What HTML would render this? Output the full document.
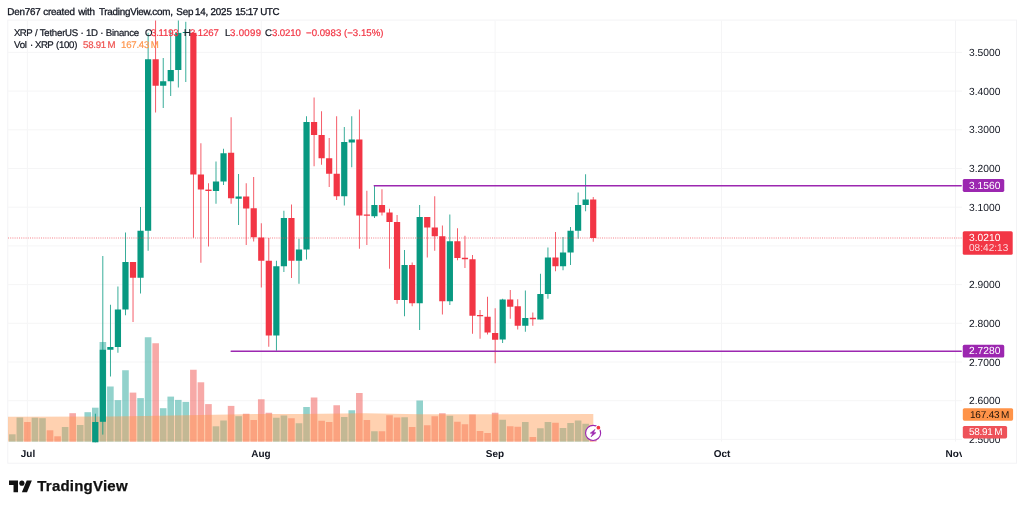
<!DOCTYPE html>
<html><head><meta charset="utf-8"><title>XRP / TetherUS</title>
<style>
html,body{margin:0;padding:0;background:#fff;}
body{will-change:transform;width:1024px;height:509px;position:relative;overflow:hidden;font-family:"Liberation Sans",sans-serif;color:#131722;}
.hdr{transform:skewX(0.3deg);transform-origin:0 100%;position:absolute;left:7.2px;top:6.37px;font-size:9.9px;line-height:11px;white-space:pre;letter-spacing:-0.2px;color:#131722;-webkit-text-stroke:0.3px #131722;}
svg.chart{position:absolute;left:0;top:0;}
.pl{transform:skewX(0.3deg);transform-origin:0 100%;position:absolute;left:968.8px;font-size:10.3px;line-height:12px;color:#131722;white-space:pre;letter-spacing:0.02px;}
.tt{position:absolute;line-height:12px;white-space:pre;transform:skewX(0.3deg);transform-origin:0 100%;}
.tl{position:absolute;top:447px;font-size:10px;line-height:12px;font-weight:bold;color:#131722;transform:translateX(-50%) skewX(0.3deg);white-space:pre;}
.leg{position:absolute;left:0;font-size:9.7px;line-height:9.6px;white-space:pre;color:#131722;letter-spacing:-0.25px;}
.leg span{position:absolute;top:0;-webkit-text-stroke:0.2px;transform:skewX(0.3deg);transform-origin:0 100%;}

.red{color:#F23645;}
.logo{position:absolute;left:9.2px;top:477.8px;}
.logot{position:absolute;left:37.3px;top:476.9px;font-size:15px;line-height:18px;font-weight:bold;color:#111;letter-spacing:0.22px;-webkit-text-stroke:0.25px #111;}
.clip{position:absolute;left:8px;top:442px;width:954px;height:21px;overflow:hidden;}
</style></head><body>
<div class="hdr" style="left:0"><span style="position:absolute;left:7.2px;top:0;">Den767</span><span style="position:absolute;left:43.15px;top:0;">created</span><span style="position:absolute;left:78.1px;top:0;">with</span><span style="position:absolute;left:98.9px;top:0;letter-spacing:-0.26px;">TradingView.com,</span><span style="position:absolute;left:176.3px;top:0;letter-spacing:-0.25px;">Sep</span><span style="position:absolute;left:194.9px;top:0;">14,</span><span style="position:absolute;left:210.4px;top:0;letter-spacing:-0.15px;">2025</span><span style="position:absolute;left:235.2px;top:0;letter-spacing:-0.4px;">15:17</span><span style="position:absolute;left:260.1px;top:0;letter-spacing:-0.45px;">UTC</span></div>
<svg class="chart" width="1024" height="509" viewBox="0 0 1024 509">
<defs><clipPath id="pane2"><rect x="8" y="20.5" width="1008" height="422.1"/></clipPath><clipPath id="pane"><rect x="8" y="20.5" width="1008" height="421.3"/></clipPath></defs>
<rect x="7.8" y="20.1" width="1008.7" height="443.1" fill="none" stroke="#F3F3F5" stroke-width="1"/>
<g clip-path="url(#pane)">
<line x1="8" x2="962" y1="52.40" y2="52.40" stroke="#F5F5F6" stroke-width="1"/>
<line x1="8" x2="962" y1="91.10" y2="91.10" stroke="#F5F5F6" stroke-width="1"/>
<line x1="8" x2="962" y1="129.80" y2="129.80" stroke="#F5F5F6" stroke-width="1"/>
<line x1="8" x2="962" y1="168.50" y2="168.50" stroke="#F5F5F6" stroke-width="1"/>
<line x1="8" x2="962" y1="207.20" y2="207.20" stroke="#F5F5F6" stroke-width="1"/>
<line x1="8" x2="962" y1="245.90" y2="245.90" stroke="#F5F5F6" stroke-width="1"/>
<line x1="8" x2="962" y1="284.60" y2="284.60" stroke="#F5F5F6" stroke-width="1"/>
<line x1="8" x2="962" y1="323.30" y2="323.30" stroke="#F5F5F6" stroke-width="1"/>
<line x1="8" x2="962" y1="362.00" y2="362.00" stroke="#F5F5F6" stroke-width="1"/>
<line x1="8" x2="962" y1="400.70" y2="400.70" stroke="#F5F5F6" stroke-width="1"/>
<line x1="8" x2="962" y1="439.40" y2="439.40" stroke="#F5F5F6" stroke-width="1"/>
<line x1="27.40" x2="27.40" y1="20.5" y2="441.8" stroke="#F5F5F6" stroke-width="1"/>
<line x1="261.26" x2="261.26" y1="20.5" y2="441.8" stroke="#F5F5F6" stroke-width="1"/>
<line x1="495.13" x2="495.13" y1="20.5" y2="441.8" stroke="#F5F5F6" stroke-width="1"/>
<line x1="721.45" x2="721.45" y1="20.5" y2="441.8" stroke="#F5F5F6" stroke-width="1"/>
<line x1="955.5" x2="955.5" y1="20" y2="441.8" stroke="#F3F3F5" stroke-width="1"/>
<rect x="1.47" y="430.00" width="6.6" height="11.80" fill="rgba(38,166,154,0.5)"/>
<rect x="9.01" y="434.30" width="6.6" height="7.50" fill="rgba(38,166,154,0.5)"/>
<rect x="16.56" y="417.50" width="6.6" height="24.30" fill="rgba(38,166,154,0.5)"/>
<rect x="24.10" y="422.00" width="6.6" height="19.80" fill="rgba(239,83,80,0.5)"/>
<rect x="31.64" y="417.70" width="6.6" height="24.10" fill="rgba(38,166,154,0.5)"/>
<rect x="39.19" y="418.20" width="6.6" height="23.60" fill="rgba(38,166,154,0.5)"/>
<rect x="46.73" y="430.30" width="6.6" height="11.50" fill="rgba(239,83,80,0.5)"/>
<rect x="54.28" y="436.30" width="6.6" height="5.50" fill="rgba(239,83,80,0.5)"/>
<rect x="61.82" y="427.00" width="6.6" height="14.80" fill="rgba(38,166,154,0.5)"/>
<rect x="69.36" y="413.20" width="6.6" height="28.60" fill="rgba(239,83,80,0.5)"/>
<rect x="76.91" y="425.00" width="6.6" height="16.80" fill="rgba(38,166,154,0.5)"/>
<rect x="84.45" y="412.20" width="6.6" height="29.60" fill="rgba(38,166,154,0.5)"/>
<rect x="92.00" y="407.70" width="6.6" height="34.10" fill="rgba(38,166,154,0.5)"/>
<rect x="99.54" y="342.00" width="6.6" height="99.80" fill="rgba(38,166,154,0.5)"/>
<rect x="107.08" y="386.50" width="6.6" height="55.30" fill="rgba(38,166,154,0.5)"/>
<rect x="114.63" y="400.10" width="6.6" height="41.70" fill="rgba(38,166,154,0.5)"/>
<rect x="122.17" y="370.25" width="6.6" height="71.55" fill="rgba(38,166,154,0.5)"/>
<rect x="129.72" y="392.60" width="6.6" height="49.20" fill="rgba(239,83,80,0.5)"/>
<rect x="137.26" y="398.10" width="6.6" height="43.70" fill="rgba(38,166,154,0.5)"/>
<rect x="144.80" y="337.25" width="6.6" height="104.55" fill="rgba(38,166,154,0.5)"/>
<rect x="152.35" y="343.25" width="6.6" height="98.55" fill="rgba(239,83,80,0.5)"/>
<rect x="159.89" y="408.20" width="6.6" height="33.60" fill="rgba(38,166,154,0.5)"/>
<rect x="167.44" y="396.60" width="6.6" height="45.20" fill="rgba(38,166,154,0.5)"/>
<rect x="174.98" y="399.90" width="6.6" height="41.90" fill="rgba(38,166,154,0.5)"/>
<rect x="182.52" y="401.90" width="6.6" height="39.90" fill="rgba(38,166,154,0.5)"/>
<rect x="190.07" y="369.75" width="6.6" height="72.05" fill="rgba(239,83,80,0.5)"/>
<rect x="197.61" y="382.30" width="6.6" height="59.50" fill="rgba(239,83,80,0.5)"/>
<rect x="205.16" y="404.10" width="6.6" height="37.70" fill="rgba(239,83,80,0.5)"/>
<rect x="212.70" y="426.30" width="6.6" height="15.50" fill="rgba(38,166,154,0.5)"/>
<rect x="220.24" y="420.50" width="6.6" height="21.30" fill="rgba(38,166,154,0.5)"/>
<rect x="227.79" y="405.90" width="6.6" height="35.90" fill="rgba(239,83,80,0.5)"/>
<rect x="235.33" y="416.20" width="6.6" height="25.60" fill="rgba(38,166,154,0.5)"/>
<rect x="242.88" y="413.75" width="6.6" height="28.05" fill="rgba(239,83,80,0.5)"/>
<rect x="250.42" y="420.00" width="6.6" height="21.80" fill="rgba(239,83,80,0.5)"/>
<rect x="257.96" y="399.25" width="6.6" height="42.55" fill="rgba(239,83,80,0.5)"/>
<rect x="265.51" y="412.75" width="6.6" height="29.05" fill="rgba(239,83,80,0.5)"/>
<rect x="273.05" y="417.75" width="6.6" height="24.05" fill="rgba(38,166,154,0.5)"/>
<rect x="280.60" y="415.50" width="6.6" height="26.30" fill="rgba(38,166,154,0.5)"/>
<rect x="288.14" y="418.25" width="6.6" height="23.55" fill="rgba(239,83,80,0.5)"/>
<rect x="295.68" y="423.25" width="6.6" height="18.55" fill="rgba(38,166,154,0.5)"/>
<rect x="303.23" y="407.00" width="6.6" height="34.80" fill="rgba(38,166,154,0.5)"/>
<rect x="310.77" y="397.50" width="6.6" height="44.30" fill="rgba(239,83,80,0.5)"/>
<rect x="318.32" y="420.75" width="6.6" height="21.05" fill="rgba(239,83,80,0.5)"/>
<rect x="325.86" y="422.00" width="6.6" height="19.80" fill="rgba(239,83,80,0.5)"/>
<rect x="333.40" y="405.25" width="6.6" height="36.55" fill="rgba(239,83,80,0.5)"/>
<rect x="340.95" y="417.00" width="6.6" height="24.80" fill="rgba(38,166,154,0.5)"/>
<rect x="348.49" y="410.25" width="6.6" height="31.55" fill="rgba(38,166,154,0.5)"/>
<rect x="356.04" y="393.00" width="6.6" height="48.80" fill="rgba(239,83,80,0.5)"/>
<rect x="363.58" y="420.00" width="6.6" height="21.80" fill="rgba(239,83,80,0.5)"/>
<rect x="371.12" y="431.25" width="6.6" height="10.55" fill="rgba(38,166,154,0.5)"/>
<rect x="378.67" y="431.25" width="6.6" height="10.55" fill="rgba(239,83,80,0.5)"/>
<rect x="386.21" y="415.25" width="6.6" height="26.55" fill="rgba(239,83,80,0.5)"/>
<rect x="393.76" y="417.50" width="6.6" height="24.30" fill="rgba(239,83,80,0.5)"/>
<rect x="401.30" y="417.25" width="6.6" height="24.55" fill="rgba(38,166,154,0.5)"/>
<rect x="408.84" y="427.00" width="6.6" height="14.80" fill="rgba(239,83,80,0.5)"/>
<rect x="416.39" y="400.50" width="6.6" height="41.30" fill="rgba(38,166,154,0.5)"/>
<rect x="423.93" y="425.25" width="6.6" height="16.55" fill="rgba(239,83,80,0.5)"/>
<rect x="431.48" y="416.25" width="6.6" height="25.55" fill="rgba(239,83,80,0.5)"/>
<rect x="439.02" y="413.25" width="6.6" height="28.55" fill="rgba(239,83,80,0.5)"/>
<rect x="446.56" y="415.75" width="6.6" height="26.05" fill="rgba(38,166,154,0.5)"/>
<rect x="454.11" y="421.75" width="6.6" height="20.05" fill="rgba(239,83,80,0.5)"/>
<rect x="461.65" y="424.25" width="6.6" height="17.55" fill="rgba(239,83,80,0.5)"/>
<rect x="469.20" y="414.50" width="6.6" height="27.30" fill="rgba(239,83,80,0.5)"/>
<rect x="476.74" y="431.00" width="6.6" height="10.80" fill="rgba(239,83,80,0.5)"/>
<rect x="484.28" y="433.00" width="6.6" height="8.80" fill="rgba(239,83,80,0.5)"/>
<rect x="491.83" y="412.75" width="6.6" height="29.05" fill="rgba(239,83,80,0.5)"/>
<rect x="499.37" y="419.75" width="6.6" height="22.05" fill="rgba(38,166,154,0.5)"/>
<rect x="506.92" y="426.25" width="6.6" height="15.55" fill="rgba(239,83,80,0.5)"/>
<rect x="514.46" y="426.75" width="6.6" height="15.05" fill="rgba(239,83,80,0.5)"/>
<rect x="522.00" y="422.00" width="6.6" height="19.80" fill="rgba(38,166,154,0.5)"/>
<rect x="529.55" y="437.00" width="6.6" height="4.80" fill="rgba(239,83,80,0.5)"/>
<rect x="537.09" y="428.25" width="6.6" height="13.55" fill="rgba(38,166,154,0.5)"/>
<rect x="544.64" y="422.00" width="6.6" height="19.80" fill="rgba(38,166,154,0.5)"/>
<rect x="552.18" y="422.75" width="6.6" height="19.05" fill="rgba(239,83,80,0.5)"/>
<rect x="559.72" y="428.00" width="6.6" height="13.80" fill="rgba(38,166,154,0.5)"/>
<rect x="567.27" y="423.00" width="6.6" height="18.80" fill="rgba(38,166,154,0.5)"/>
<rect x="574.81" y="420.50" width="6.6" height="21.30" fill="rgba(38,166,154,0.5)"/>
<rect x="582.36" y="423.75" width="6.6" height="18.05" fill="rgba(38,166,154,0.5)"/>
<rect x="589.90" y="432.20" width="6.6" height="9.60" fill="rgba(239,83,80,0.5)"/>
<polygon points="8,416.7 110,416.6 145,416.1 200,414.9 256,414 300,414 365,413.25 420,414.25 500,414.2 593.3,414 593.3,441.8 8,441.8" fill="rgba(255,152,0,0.0)"/>
<polygon points="8,416.7 110,416.6 145,416.1 200,414.9 256,414 300,414 365,413.25 420,414.25 500,414.2 593.3,414 593.3,441.8 8,441.8" fill="#FF9850" fill-opacity="0.45"/>
</g><g clip-path="url(#pane2)">
<rect x="94.90" y="413.70" width="0.8" height="28.90" fill="#089981"/>
<rect x="92.20" y="422.00" width="6.2" height="20.60" fill="#089981"/>
<rect x="102.44" y="256.00" width="0.8" height="178.60" fill="#089981"/>
<rect x="99.74" y="349.75" width="6.2" height="72.05" fill="#089981"/>
<rect x="109.98" y="304.75" width="0.8" height="71.75" fill="#089981"/>
<rect x="107.28" y="347.00" width="6.2" height="2.75" fill="#089981"/>
<rect x="117.53" y="286.50" width="0.8" height="66.25" fill="#089981"/>
<rect x="114.83" y="309.50" width="6.2" height="37.50" fill="#089981"/>
<rect x="125.07" y="232.50" width="0.8" height="82.75" fill="#089981"/>
<rect x="122.37" y="262.00" width="6.2" height="47.50" fill="#089981"/>
<rect x="132.62" y="262.00" width="0.8" height="60.00" fill="#F23645"/>
<rect x="129.92" y="262.00" width="6.2" height="15.75" fill="#F23645"/>
<rect x="140.16" y="207.00" width="0.8" height="86.50" fill="#089981"/>
<rect x="137.46" y="230.75" width="6.2" height="47.00" fill="#089981"/>
<rect x="147.70" y="32.80" width="0.8" height="217.95" fill="#089981"/>
<rect x="145.00" y="59.25" width="6.2" height="171.50" fill="#089981"/>
<rect x="155.25" y="20.00" width="0.8" height="92.50" fill="#F23645"/>
<rect x="152.55" y="59.25" width="6.2" height="26.50" fill="#F23645"/>
<rect x="162.79" y="58.00" width="0.8" height="50.00" fill="#089981"/>
<rect x="160.09" y="81.25" width="6.2" height="4.50" fill="#089981"/>
<rect x="170.34" y="30.30" width="0.8" height="65.70" fill="#089981"/>
<rect x="167.64" y="70.00" width="6.2" height="11.25" fill="#089981"/>
<rect x="177.88" y="20.00" width="0.8" height="67.50" fill="#089981"/>
<rect x="175.18" y="32.90" width="6.2" height="37.10" fill="#089981"/>
<rect x="185.42" y="21.80" width="0.8" height="60.20" fill="#089981"/>
<rect x="182.72" y="32.00" width="6.2" height="1.00" fill="#089981"/>
<rect x="192.97" y="32.80" width="0.8" height="204.95" fill="#F23645"/>
<rect x="190.27" y="32.80" width="6.2" height="141.70" fill="#F23645"/>
<rect x="200.51" y="143.25" width="0.8" height="119.50" fill="#F23645"/>
<rect x="197.81" y="174.50" width="6.2" height="15.00" fill="#F23645"/>
<rect x="208.06" y="183.25" width="0.8" height="63.25" fill="#F23645"/>
<rect x="205.36" y="189.60" width="6.2" height="1.40" fill="#F23645"/>
<rect x="215.60" y="161.50" width="0.8" height="42.25" fill="#089981"/>
<rect x="212.90" y="181.50" width="6.2" height="9.50" fill="#089981"/>
<rect x="223.14" y="148.75" width="0.8" height="36.25" fill="#089981"/>
<rect x="220.44" y="153.25" width="6.2" height="28.25" fill="#089981"/>
<rect x="230.69" y="117.25" width="0.8" height="86.50" fill="#F23645"/>
<rect x="227.99" y="152.75" width="6.2" height="45.50" fill="#F23645"/>
<rect x="238.23" y="174.00" width="0.8" height="51.00" fill="#089981"/>
<rect x="235.53" y="196.50" width="6.2" height="2.25" fill="#089981"/>
<rect x="245.78" y="183.25" width="0.8" height="61.75" fill="#F23645"/>
<rect x="243.08" y="196.50" width="6.2" height="12.00" fill="#F23645"/>
<rect x="253.32" y="177.00" width="0.8" height="64.50" fill="#F23645"/>
<rect x="250.62" y="208.25" width="6.2" height="29.00" fill="#F23645"/>
<rect x="260.86" y="223.25" width="0.8" height="64.25" fill="#F23645"/>
<rect x="258.16" y="237.50" width="6.2" height="23.25" fill="#F23645"/>
<rect x="268.41" y="238.00" width="0.8" height="108.75" fill="#F23645"/>
<rect x="265.71" y="260.75" width="6.2" height="74.75" fill="#F23645"/>
<rect x="275.95" y="260.75" width="0.8" height="90.00" fill="#089981"/>
<rect x="273.25" y="266.25" width="6.2" height="69.25" fill="#089981"/>
<rect x="283.50" y="210.75" width="0.8" height="61.25" fill="#089981"/>
<rect x="280.80" y="218.00" width="6.2" height="48.25" fill="#089981"/>
<rect x="291.04" y="204.50" width="0.8" height="73.50" fill="#F23645"/>
<rect x="288.34" y="218.00" width="6.2" height="42.75" fill="#F23645"/>
<rect x="298.58" y="238.75" width="0.8" height="45.00" fill="#089981"/>
<rect x="295.88" y="249.50" width="6.2" height="11.25" fill="#089981"/>
<rect x="306.13" y="116.25" width="0.8" height="143.25" fill="#089981"/>
<rect x="303.43" y="122.00" width="6.2" height="127.50" fill="#089981"/>
<rect x="313.67" y="97.50" width="0.8" height="68.75" fill="#F23645"/>
<rect x="310.97" y="122.00" width="6.2" height="13.00" fill="#F23645"/>
<rect x="321.22" y="111.25" width="0.8" height="53.50" fill="#F23645"/>
<rect x="318.52" y="135.00" width="6.2" height="23.25" fill="#F23645"/>
<rect x="328.76" y="138.00" width="0.8" height="49.00" fill="#F23645"/>
<rect x="326.06" y="158.25" width="6.2" height="15.50" fill="#F23645"/>
<rect x="336.30" y="116.25" width="0.8" height="83.75" fill="#F23645"/>
<rect x="333.60" y="173.75" width="6.2" height="22.50" fill="#F23645"/>
<rect x="343.85" y="127.00" width="0.8" height="78.50" fill="#089981"/>
<rect x="341.15" y="142.00" width="6.2" height="54.25" fill="#089981"/>
<rect x="351.39" y="116.25" width="0.8" height="51.00" fill="#089981"/>
<rect x="348.69" y="139.50" width="6.2" height="3.00" fill="#089981"/>
<rect x="358.94" y="109.50" width="0.8" height="139.25" fill="#F23645"/>
<rect x="356.24" y="139.50" width="6.2" height="76.00" fill="#F23645"/>
<rect x="366.48" y="190.75" width="0.8" height="54.25" fill="#F23645"/>
<rect x="363.78" y="214.50" width="6.2" height="1.25" fill="#F23645"/>
<rect x="374.02" y="185.75" width="0.8" height="32.25" fill="#089981"/>
<rect x="371.32" y="205.00" width="6.2" height="11.25" fill="#089981"/>
<rect x="381.57" y="189.25" width="0.8" height="26.25" fill="#F23645"/>
<rect x="378.87" y="205.00" width="6.2" height="7.50" fill="#F23645"/>
<rect x="389.11" y="208.75" width="0.8" height="60.00" fill="#F23645"/>
<rect x="386.41" y="212.50" width="6.2" height="9.50" fill="#F23645"/>
<rect x="396.66" y="215.00" width="0.8" height="88.75" fill="#F23645"/>
<rect x="393.96" y="222.00" width="6.2" height="78.00" fill="#F23645"/>
<rect x="404.20" y="250.00" width="0.8" height="66.25" fill="#089981"/>
<rect x="401.50" y="265.00" width="6.2" height="35.00" fill="#089981"/>
<rect x="411.74" y="262.50" width="0.8" height="43.75" fill="#F23645"/>
<rect x="409.04" y="265.00" width="6.2" height="38.25" fill="#F23645"/>
<rect x="419.29" y="205.00" width="0.8" height="125.00" fill="#089981"/>
<rect x="416.59" y="217.00" width="6.2" height="86.25" fill="#089981"/>
<rect x="426.83" y="217.00" width="0.8" height="40.50" fill="#F23645"/>
<rect x="424.13" y="217.00" width="6.2" height="10.50" fill="#F23645"/>
<rect x="434.38" y="196.25" width="0.8" height="54.50" fill="#F23645"/>
<rect x="431.68" y="227.50" width="6.2" height="8.75" fill="#F23645"/>
<rect x="441.92" y="225.50" width="0.8" height="89.00" fill="#F23645"/>
<rect x="439.22" y="236.25" width="6.2" height="65.00" fill="#F23645"/>
<rect x="449.46" y="214.50" width="0.8" height="90.50" fill="#089981"/>
<rect x="446.76" y="241.25" width="6.2" height="60.00" fill="#089981"/>
<rect x="457.01" y="228.25" width="0.8" height="32.00" fill="#F23645"/>
<rect x="454.31" y="241.25" width="6.2" height="16.75" fill="#F23645"/>
<rect x="464.55" y="235.75" width="0.8" height="32.25" fill="#F23645"/>
<rect x="461.85" y="257.75" width="6.2" height="1.50" fill="#F23645"/>
<rect x="472.10" y="255.00" width="0.8" height="78.75" fill="#F23645"/>
<rect x="469.40" y="259.25" width="6.2" height="56.50" fill="#F23645"/>
<rect x="479.64" y="310.00" width="0.8" height="28.75" fill="#F23645"/>
<rect x="476.94" y="315.00" width="6.2" height="1.25" fill="#F23645"/>
<rect x="487.18" y="296.75" width="0.8" height="37.75" fill="#F23645"/>
<rect x="484.48" y="316.75" width="6.2" height="15.75" fill="#F23645"/>
<rect x="494.73" y="308.25" width="0.8" height="55.00" fill="#F23645"/>
<rect x="492.03" y="333.00" width="6.2" height="6.75" fill="#F23645"/>
<rect x="502.27" y="298.75" width="0.8" height="44.25" fill="#089981"/>
<rect x="499.57" y="299.50" width="6.2" height="40.00" fill="#089981"/>
<rect x="509.82" y="290.00" width="0.8" height="28.75" fill="#F23645"/>
<rect x="507.12" y="299.50" width="6.2" height="7.25" fill="#F23645"/>
<rect x="517.36" y="299.25" width="0.8" height="30.25" fill="#F23645"/>
<rect x="514.66" y="306.25" width="6.2" height="19.50" fill="#F23645"/>
<rect x="524.90" y="290.50" width="0.8" height="41.25" fill="#089981"/>
<rect x="522.20" y="318.00" width="6.2" height="7.75" fill="#089981"/>
<rect x="532.45" y="312.50" width="0.8" height="13.25" fill="#F23645"/>
<rect x="529.75" y="317.75" width="6.2" height="1.50" fill="#F23645"/>
<rect x="539.99" y="273.75" width="0.8" height="45.75" fill="#089981"/>
<rect x="537.29" y="294.00" width="6.2" height="25.50" fill="#089981"/>
<rect x="547.54" y="247.50" width="0.8" height="51.25" fill="#089981"/>
<rect x="544.84" y="257.50" width="6.2" height="36.50" fill="#089981"/>
<rect x="555.08" y="232.00" width="0.8" height="39.25" fill="#F23645"/>
<rect x="552.38" y="257.50" width="6.2" height="8.75" fill="#F23645"/>
<rect x="562.62" y="237.00" width="0.8" height="33.25" fill="#089981"/>
<rect x="559.92" y="252.50" width="6.2" height="13.75" fill="#089981"/>
<rect x="570.17" y="227.00" width="0.8" height="38.00" fill="#089981"/>
<rect x="567.47" y="230.75" width="6.2" height="21.75" fill="#089981"/>
<rect x="577.71" y="192.50" width="0.8" height="46.25" fill="#089981"/>
<rect x="575.01" y="205.00" width="6.2" height="25.75" fill="#089981"/>
<rect x="585.26" y="174.25" width="0.8" height="37.00" fill="#089981"/>
<rect x="582.56" y="199.50" width="6.2" height="5.50" fill="#089981"/>
<rect x="592.80" y="197.00" width="0.8" height="44.75" fill="#F23645"/>
<rect x="590.10" y="199.50" width="6.2" height="38.50" fill="#F23645"/>
<line x1="8" x2="962" y1="238" y2="238" stroke="#F23645" stroke-width="1" stroke-dasharray="1 1.2" opacity="0.62"/>
<line x1="374.3" x2="961.2" y1="185.75" y2="185.75" stroke="#9C27B0" stroke-width="1.5" stroke-linecap="round"/>
<line x1="231.2" x2="961.2" y1="351.15" y2="351.15" stroke="#9C27B0" stroke-width="1.5" stroke-linecap="round"/>
<circle cx="593.1" cy="432.9" r="7.55" fill="#fff" stroke="#9C27B0" stroke-width="1.15"/>
<path d="M595.10,429.20 L590.15,433.15 L592.65,433.40 L591.00,436.90 L596.05,432.65 L593.65,432.50 Z" fill="#9C27B0" stroke="#9C27B0" stroke-width="0.5" stroke-linejoin="round"/>
<circle cx="598.4" cy="427.7" r="2.6" fill="#fff"/>
<circle cx="598.4" cy="427.7" r="1.85" fill="#F23645"/>
</g>
</svg>
<div class="pl" style="top:47.00px">3.5000</div>
<div class="pl" style="top:85.70px">3.4000</div>
<div class="pl" style="top:124.40px">3.3000</div>
<div class="pl" style="top:163.10px">3.2000</div>
<div class="pl" style="top:201.80px">3.1000</div>
<div class="pl" style="top:240.50px">3.0000</div>
<div class="pl" style="top:279.20px">2.9000</div>
<div class="pl" style="top:317.90px">2.8000</div>
<div class="pl" style="top:356.60px">2.7000</div>
<div class="pl" style="top:395.30px">2.6000</div>
<div class="pl" style="top:434.00px">2.5000</div>
<svg class="chart" width="1024" height="509" viewBox="0 0 1024 509">
<rect x="962.75" y="179.0" width="41.5" height="12.9" rx="1.6" fill="#9C27B0"/>
<rect x="962.75" y="344.8" width="41.5" height="12.8" rx="1.6" fill="#9C27B0"/>
<rect x="962.75" y="231.2" width="49.95" height="23.65" rx="1.6" fill="#F23645"/>
<rect x="962.8" y="408.2" width="50.3" height="12.5" rx="1.6" fill="#FF9348"/>
<rect x="962.8" y="425.9" width="44.3" height="12.55" rx="1.6" fill="#EE5259"/>
</svg>
<div class="tt" style="left:969.0px;top:179.53px;font-size:10.3px;color:#fff;">3.1560</div>
<div class="tt" style="left:969.0px;top:345.18px;font-size:10.3px;color:#fff;">2.7280</div>
<div class="tt" style="left:969.0px;top:231.53px;font-size:10.3px;color:#fff;">3.0210</div>
<div class="tt" style="left:969.0px;top:242.40px;font-size:10.1px;color:#fff;opacity:.8;">08:42:13</div>
<div class="tt" style="left:969.6px;top:408.7px;font-size:10px;color:#20130a;letter-spacing:-0.2px;">167.43<span style="margin-left:1.7px">M</span></div>
<div class="tt" style="left:969.4px;top:426.2px;font-size:10px;color:#fff;letter-spacing:-0.28px;">58.91<span style="margin-left:1.6px">M</span></div>
<div class="clip">
<div class="tl" style="left:19.5px;top:5.5px">Jul</div>
<div class="tl" style="left:253.4px;top:5.5px">Aug</div>
<div class="tl" style="left:487.2px;top:5.5px">Sep</div>
<div class="tl" style="left:713.5px;top:5.5px">Oct</div>
<div class="tl" style="left:947.4px;top:5.5px">Nov</div>
</div>
<div class="leg" style="top:27.5px"><span style="left:13.6px;letter-spacing:-0.6px">XRP</span><span style="left:34.6px">/ TetherUS · 1D · Binance</span><span style="left:144.6px">O</span><span class="red" style="left:151.3px">3.1193</span><span style="left:183.7px">H</span><span class="red" style="left:190.3px;letter-spacing:-0.15px">3.1267</span><span style="left:224.6px">L</span><span class="red" style="left:229.6px;letter-spacing:0.3px">3.0099</span><span style="left:264.7px">C</span><span class="red" style="left:272px;letter-spacing:-0.15px">3.0210</span><span class="red" style="left:306.2px;letter-spacing:0px">−0.0983 (−3.15%)</span></div>
<div class="leg" style="top:40.24px"><span style="left:14.1px">Vol</span><span style="left:29.6px">·</span><span style="left:34.7px;letter-spacing:-0.55px">XRP</span><span style="left:55.6px;letter-spacing:-0.3px">(100)</span><span style="left:82.8px;color:#EF5350">58.91<i style="margin-left:1.6px;font-style:normal">M</i></span><span style="left:120.8px;color:#FF9850">167.43<i style="margin-left:1.6px;font-style:normal">M</i></span></div>
<svg class="logo" width="23.2" height="18" viewBox="0 0 36 28"><path d="M14 22H7V11H0V4h14v18zM28 22h-8l7.5-18h8L28 22z" fill="#111"/><circle cx="20" cy="8" r="4" fill="#111"/></svg>
<div class="logot">TradingView</div>
</body></html>
